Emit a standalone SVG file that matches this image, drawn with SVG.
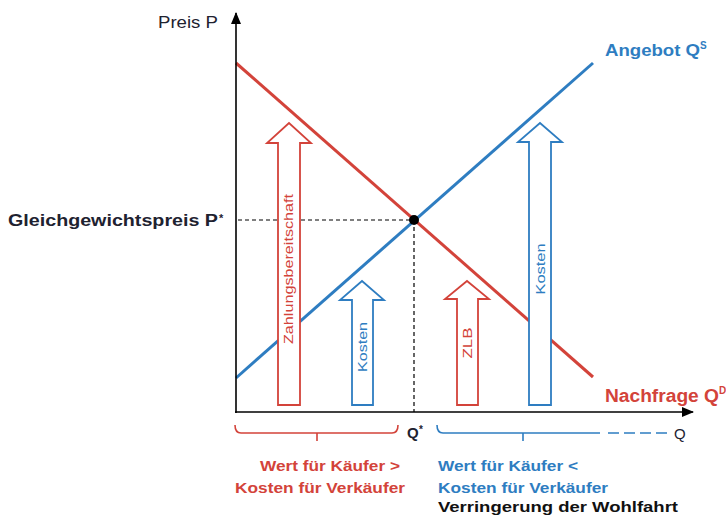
<svg xmlns="http://www.w3.org/2000/svg" width="726" height="518" viewBox="0 0 726 518">
<defs>
<style>
.t{font-family:"Liberation Sans",Arial,sans-serif;}
.b{font-weight:bold;}
.red{fill:#d3433a;}
.blue{fill:#2e7dc1;}
.dark{fill:#1e2230;}
.ar{fill:#fff;stroke-width:1.8;stroke-linejoin:miter;}
.arR{stroke:#d3433a;}
.arB{stroke:#2e7dc1;}
.lbl{font-family:"Liberation Sans",Arial,sans-serif;font-size:13px;}
</style>
<marker id="ah" viewBox="0 0 12 10" refX="11" refY="5" markerWidth="12" markerHeight="10" markerUnits="userSpaceOnUse" orient="auto"><path d="M0,0 L12,5 L0,10 Z" fill="#000"/></marker>
</defs>
<rect width="726" height="518" fill="#fff"/>
<g id="connectors">
<line x1="236" y1="63" x2="593" y2="377" stroke="#d3433a" stroke-width="3"/>
<line x1="236" y1="378" x2="593" y2="63" stroke="#2e7dc1" stroke-width="3"/>
<line x1="238" y1="220" x2="414" y2="220" stroke="#000" stroke-width="1.2" stroke-dasharray="4,3"/>
<line x1="414" y1="220" x2="414" y2="412" stroke="#000" stroke-width="1.2" stroke-dasharray="4,3"/>
<line x1="236" y1="413" x2="236" y2="13" stroke="#000" stroke-width="1.6" marker-end="url(#ah)"/>
<line x1="235" y1="412" x2="693" y2="412" stroke="#000" stroke-width="1.6" marker-end="url(#ah)"/>
</g>
<g id="equilibrium"><circle cx="414" cy="220" r="5" fill="#000"/></g>
<g id="arrow-zahlungsbereitschaft">
<path class="ar arR" d="M278,405 L278,143 L267,143 L289,123 L311,143 L300,143 L300,405 Z"/>
<text class="lbl red" transform="translate(293,269) rotate(-90)" text-anchor="middle" textLength="150" lengthAdjust="spacingAndGlyphs">Zahlungsbereitschaft</text>
</g>
<g id="arrow-kosten-left">
<path class="ar arB" d="M352,405 L352,300 L340,300 L362,281 L384,300 L373,300 L373,405 Z"/>
<text class="lbl blue" transform="translate(367,347) rotate(-90)" text-anchor="middle" textLength="50" lengthAdjust="spacingAndGlyphs">Kosten</text>
</g>
<g id="arrow-zlb">
<path class="ar arR" d="M457,405 L457,299 L445,299 L467,281 L489,299 L478,299 L478,405 Z"/>
<text class="lbl red" transform="translate(472,343) rotate(-90)" text-anchor="middle" textLength="31" lengthAdjust="spacingAndGlyphs">ZLB</text>
</g>
<g id="arrow-kosten-right">
<path class="ar arB" d="M529,405 L529,142 L518,142 L540,123 L562,142 L551,142 L551,405 Z"/>
<text class="lbl blue" transform="translate(545,269) rotate(-90)" text-anchor="middle" textLength="51" lengthAdjust="spacingAndGlyphs">Kosten</text>
</g>
<g id="axis-labels">
<text class="t dark" x="158" y="28" font-size="17" textLength="60" lengthAdjust="spacingAndGlyphs">Preis P</text>
<text class="t b dark" x="8" y="226" font-size="16" textLength="210" lengthAdjust="spacingAndGlyphs">Gleichgewichtspreis P</text>
<text class="t b dark" x="219" y="222" font-size="11">*</text>
<text class="t b dark" x="407" y="438" font-size="15">Q</text>
<text class="t b dark" x="419" y="433" font-size="10">*</text>
<text class="t dark" x="674" y="439" font-size="15">Q</text>
</g>
<g id="curve-labels">
<text class="t b blue" x="605" y="56" font-size="17"><tspan textLength="95" lengthAdjust="spacingAndGlyphs">Angebot Q</tspan><tspan font-size="10" dy="-7">S</tspan></text>
<text class="t b red" x="605" y="402" font-size="18"><tspan textLength="114" lengthAdjust="spacingAndGlyphs">Nachfrage Q</tspan><tspan font-size="10" dy="-8">D</tspan></text>
</g>
<g id="bracket-left">
<path d="M235,425 Q235,433 241,433 L392,433 Q398,433 398,425 M317,433 L317,441" fill="none" stroke="#d3433a" stroke-width="1.6"/>
<text class="t b red" x="260" y="471" font-size="15" textLength="140" lengthAdjust="spacingAndGlyphs">Wert für Käufer &gt;</text>
<text class="t b red" x="235" y="493" font-size="15" textLength="170" lengthAdjust="spacingAndGlyphs">Kosten für Verkäufer</text>
</g>
<g id="bracket-right">
<path d="M437,425 Q437,433 443,433 L600,433 M523,433 L523,441" fill="none" stroke="#2e7dc1" stroke-width="1.6"/>
<path d="M608,433 L668,433" fill="none" stroke="#2e7dc1" stroke-width="1.6" stroke-dasharray="11,5"/>
<text class="t b blue" x="438" y="471" font-size="15" textLength="140" lengthAdjust="spacingAndGlyphs">Wert für Käufer &lt;</text>
<text class="t b blue" x="438" y="493" font-size="15" textLength="170" lengthAdjust="spacingAndGlyphs">Kosten für Verkäufer</text>
<text class="t b" x="438" y="512" font-size="15" fill="#111" textLength="240" lengthAdjust="spacingAndGlyphs">Verringerung der Wohlfahrt</text>
</g>
</svg>
